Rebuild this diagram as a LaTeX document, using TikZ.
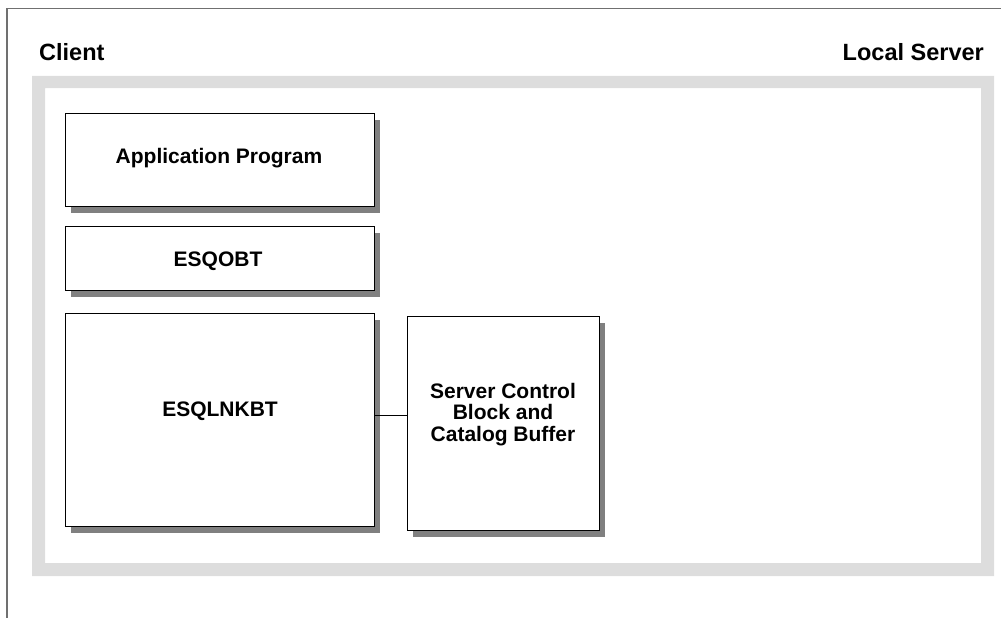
\documentclass[tikz,border=0pt]{standalone}
\usepackage{fontspec}
\setmainfont{Liberation Sans}
\usetikzlibrary{shadows}
\definecolor{bandgray}{HTML}{DDDDDD}
\definecolor{shadegray}{HTML}{808080}
\definecolor{framegray}{HTML}{707070}
\begin{document}
\begin{tikzpicture}[x=1pt,y=-1pt,
  block/.style={draw=black, line width=1pt, fill=white, inner sep=0pt, anchor=north west,
    drop shadow={shadow xshift=5pt, shadow yshift=-6pt, fill=shadegray, opacity=1}},
  boxlabel/.style={font=\fontsize{21pt}{21.7pt}\selectfont\bfseries, align=center, inner sep=0pt},
  headlabel/.style={font=\fontsize{23.5pt}{25pt}\selectfont\bfseries, inner sep=0pt}]
\useasboundingbox (0,0) rectangle (1001,618);
% outer frame (only top and left edges)
\draw[framegray, line width=1.5pt] (7,618) -- (7,8.5) -- (1001,8.5);
% headings
\node[headlabel, anchor=base west] (client) at (39,61) {Client};
\node[headlabel, anchor=base east] (local) at (984,60) {Local Server};
% gray band around the local server area
\fill[bandgray, even odd rule] (32,76) rectangle (994,576) (45,88) rectangle (981,563);
% blocks
\node[block, minimum width=309pt, minimum height=93pt] (app) at (65,113) {};
\node[block, minimum width=309pt, minimum height=64pt] (obt) at (65,226) {};
\node[block, minimum width=309pt, minimum height=213pt] (lnk) at (65,313) {};
\node[block, minimum width=192pt, minimum height=214pt] (scb) at (407,316) {};
% block labels
\node[boxlabel, anchor=base] (appt) at (219,163.3) {Application Program};
\node[boxlabel, anchor=base] (obtt) at (218,266) {ESQOBT};
\node[boxlabel, anchor=base] (lnkt) at (220,416.7) {ESQLNKBT};
\node[boxlabel, anchor=center] (scbt) at (503,414.6) {Server Control\\Block and\\Catalog Buffer};
% link between ESQLNKBT and the control block
\coordinate (joint) at (0,415);
\draw[black, line width=0.8pt] (lnk.east |- joint) -- (scb.west |- joint);
\end{tikzpicture}
\end{document}
